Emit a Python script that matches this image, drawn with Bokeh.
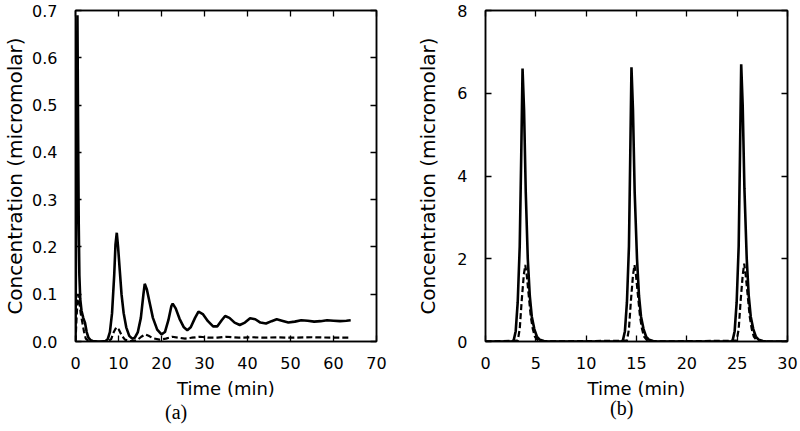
from bokeh.plotting import figure
from bokeh.layouts import row, column
from bokeh.models import FixedTicker, PrintfTickFormatter, LinearAxis, Range1d, Div
from bokeh.embed import file_html
from bokeh.resources import INLINE

# ---------------- data: panel (a) ----------------
a_solid_t = [0.0, 0.2, 0.45, 0.6, 0.75, 0.9, 1.1, 1.4, 1.8, 2.2, 2.6, 3.0, 3.5, 4.0, 5.0, 6.0, 7.0,
             7.5, 8.0, 8.5, 9.0, 9.3, 9.6, 9.9, 10.3, 10.7, 11.2, 11.8, 12.5, 13.2, 13.8, 14.5,
             15.2, 15.8, 16.1, 16.6, 17.3, 18.0, 19.0, 20.0, 20.8, 21.6, 22.3, 22.6, 23.3, 24.2,
             25.2, 26.0, 26.8, 27.8, 28.6, 29.6, 30.8, 32.0, 33.0, 34.0, 34.8, 35.8, 37.0, 38.2,
             39.4, 40.6, 41.8, 43.0, 44.3, 45.6, 46.8, 48.0, 49.5, 51.0, 52.5, 54.0, 55.5, 57.0,
             58.5, 60.0, 61.5, 63.0, 64.0]
a_solid_c = [0.0, 0.35, 0.69, 0.45, 0.25, 0.14, 0.09, 0.065, 0.05, 0.04, 0.02, 0.008, 0.003, 0.001, 0.0, 0.0, 0.001,
             0.005, 0.02, 0.06, 0.14, 0.205, 0.23, 0.2, 0.15, 0.1, 0.06, 0.03, 0.012, 0.006, 0.008, 0.02,
             0.05, 0.1, 0.122, 0.11, 0.08, 0.05, 0.025, 0.015, 0.02, 0.045, 0.075, 0.08, 0.07, 0.048,
             0.03, 0.024, 0.03, 0.05, 0.063, 0.058, 0.043, 0.032, 0.032, 0.045, 0.054, 0.05, 0.04, 0.035,
             0.04, 0.049, 0.047, 0.04, 0.038, 0.043, 0.047, 0.044, 0.04, 0.042, 0.045, 0.044, 0.042, 0.043,
             0.045, 0.044, 0.043, 0.044, 0.045]

a_dash_t = [0.0, 0.3, 0.6, 0.9, 1.2, 1.6, 2.0, 2.4, 3.0, 5.0, 7.5, 8.3, 8.9, 9.5, 10.1, 10.8, 11.5,
            12.5, 13.5, 14.5, 15.3, 16.2, 17.0, 18.0, 19.5, 21.0, 22.5, 24.0, 25.5, 27.0, 29.0,
            31.0, 33.0, 35.0, 38.0, 41.0, 44.0, 47.0, 50.0, 55.0, 60.0, 64.0]
a_dash_c = [0.0, 0.06, 0.1, 0.085, 0.06, 0.04, 0.02, 0.006, 0.001, 0.0, 0.0, 0.005, 0.02, 0.03, 0.025, 0.012, 0.004,
            0.001, 0.001, 0.004, 0.01, 0.015, 0.012, 0.007, 0.004, 0.006, 0.01, 0.008, 0.006, 0.008, 0.01,
            0.008, 0.008, 0.01, 0.008, 0.009, 0.008, 0.009, 0.008, 0.009, 0.008, 0.008]

a_xticks = [0, 10, 20, 30, 40, 50, 60, 70]
a_yticks = [0.0, 0.1, 0.2, 0.3, 0.4, 0.5, 0.6, 0.7]

# ---------------- data: panel (b) ----------------
b_solid_t = [0.0, 2.6, 2.8, 3.0, 3.2, 3.4, 3.55, 3.68, 3.83, 4.0, 4.2, 4.4, 4.6, 4.85, 5.1, 5.4, 5.8, 6.2,
             13.45, 13.65, 13.85, 14.05, 14.25, 14.38, 14.5, 14.65, 14.82, 15.05, 15.25, 15.45, 15.7, 15.95, 16.25, 16.65, 17.05,
             24.35, 24.55, 24.75, 24.95, 25.15, 25.28, 25.4, 25.55, 25.72, 25.95, 26.15, 26.35, 26.6, 26.85, 27.15, 27.55, 27.95, 30.0]
b_solid_c = [0.0, 0.0, 0.03, 0.25, 0.95, 2.3, 4.5, 6.6, 5.6, 3.6, 2.0, 1.1, 0.6, 0.3, 0.12, 0.04, 0.01, 0.0,
             0.0, 0.03, 0.25, 0.95, 2.3, 4.5, 6.63, 5.6, 3.6, 2.0, 1.1, 0.6, 0.3, 0.12, 0.04, 0.01, 0.0,
             0.0, 0.03, 0.25, 0.95, 2.3, 4.5, 6.7, 5.7, 3.7, 2.0, 1.1, 0.6, 0.3, 0.12, 0.04, 0.01, 0.0, 0.0]

b_dash_t = [0.0, 3.2, 3.4, 3.6, 3.8, 3.95, 4.1, 4.3, 4.5, 4.7, 4.9, 5.2, 5.5,
            14.05, 14.25, 14.45, 14.65, 14.8, 14.95, 15.15, 15.35, 15.55, 15.75, 16.05, 16.35,
            24.95, 25.15, 25.35, 25.55, 25.7, 25.85, 26.05, 26.25, 26.45, 26.65, 26.95, 27.25, 30.0]
b_dash_c = [0.0, 0.02, 0.3, 1.0, 1.6, 1.85, 1.6, 1.1, 0.6, 0.3, 0.12, 0.03, 0.0,
            0.02, 0.3, 1.0, 1.6, 1.85, 1.6, 1.1, 0.6, 0.3, 0.12, 0.03, 0.0,
            0.02, 0.3, 1.0, 1.6, 1.88, 1.6, 1.1, 0.6, 0.3, 0.12, 0.03, 0.0, 0.0]

b_xticks = [0, 5, 10, 15, 20, 25, 30]
b_yticks = [0, 2, 4, 6, 8]

FONT = "DejaVu Sans"
SERIF = "Liberation Serif"
FIG_H = 401


def make_panel(xr, yr, xticks, yticks, yfmt, left, right, ylab_standoff, st, sc, dt, dc):
    p = figure(width=400, height=FIG_H, x_range=Range1d(*xr), y_range=Range1d(*yr),
               output_backend="svg", toolbar_location=None,
               min_border_left=left, min_border_right=right, min_border_top=10, min_border_bottom=20)
    p.xgrid.visible = False
    p.ygrid.visible = False
    p.outline_line_color = "black"
    p.outline_line_width = 1.5
    p.background_fill_color = "white"
    p.border_fill_color = "white"

    p.line(st, sc, line_color="black", line_width=2.6)
    p.line(dt, dc, line_color="black", line_width=2.2, line_dash="6 3")

    for ax in p.xaxis:
        ax.ticker = FixedTicker(ticks=xticks)
        ax.axis_label = "Time (min)"
        ax.major_label_standoff = 15
        ax.axis_label_standoff = 6
    for ax in p.yaxis:
        ax.ticker = FixedTicker(ticks=yticks)
        ax.formatter = PrintfTickFormatter(format=yfmt)
        ax.axis_label = "Concentration (micromolar)"
        ax.major_label_standoff = 18
        ax.axis_label_standoff = ylab_standoff
    for ax in list(p.xaxis) + list(p.yaxis):
        ax.major_tick_in = 6
        ax.major_tick_out = 0
        ax.minor_tick_line_color = None
        ax.axis_line_width = 1.5
        ax.major_tick_line_width = 1.3
        ax.major_label_text_font = FONT
        ax.major_label_text_font_size = "16px"
        ax.major_label_text_color = "black"
        ax.axis_label_text_font = FONT
        ax.axis_label_text_font_style = "normal"
        ax.axis_label_text_color = "black"
    p.xaxis.axis_label_text_font_size = "18px"
    p.yaxis.axis_label_text_font_size = "20px"

    # mirrored inner ticks on top and right (no labels)
    for loc, tk in (("above", xticks), ("right", yticks)):
        ax = LinearAxis(ticker=FixedTicker(ticks=tk), major_tick_in=6, major_tick_out=0,
                        minor_tick_line_color=None, major_label_text_font_size="1px",
                        major_label_text_color=None, major_label_standoff=0,
                        axis_line_width=1.5, major_tick_line_width=1.3)
        p.add_layout(ax, loc)
    return p


pa = make_panel((0, 70), (0, 0.7), a_xticks, a_yticks, "%.1f", 75, 24, 2,
                a_solid_t, a_solid_c, a_dash_t, a_dash_c)
pb = make_panel((0, 30), (0, 8), b_xticks, b_yticks, "%d", 85, 13, 14,
                b_solid_t, b_solid_c, b_dash_t, b_dash_c)

tag_style = {"font-family": SERIF, "font-size": "20px", "color": "black", "margin": "0"}
da = Div(text="(a)", width=400, height=30,
         styles=dict(tag_style, **{"padding-left": "165px", "line-height": "22px"}))
db = Div(text="(b)", width=400, height=30,
         styles=dict(tag_style, **{"padding-left": "210px", "line-height": "14px"}))

layout = column(row(pa, pb, spacing=0), row(da, db, spacing=0), spacing=0)
open("out.html", "w").write(file_html(layout, INLINE))
